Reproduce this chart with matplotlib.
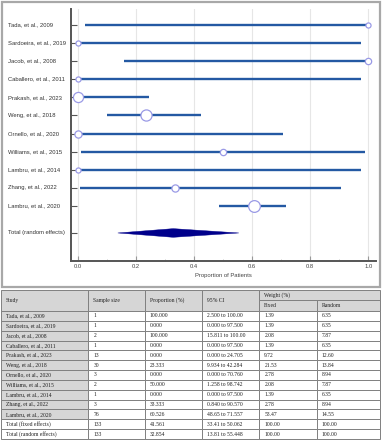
import matplotlib
matplotlib.use("Agg")
import matplotlib.pyplot as plt
from matplotlib.patches import Rectangle, Polygon
import matplotlib.transforms as mtransforms

# ---------------- data ----------------
studies = ["Tada, et al., 2009", "Sardoeira, et al., 2019", "Jacob, et al., 2008",
           "Caballero, et al., 2011", "Prakash, et al., 2023", "Weng, et al., 2018",
           "Ornello, et al., 2020", "Williams, et al., 2015", "Lambru, et al., 2014",
           "Zhang, et al., 2022", "Lambru, et al., 2020"]
sample_size = [1, 1, 2, 1, 13, 30, 3, 2, 1, 3, 76]
proportion = [100.000, 0.000, 100.000, 0.000, 0.000, 23.333, 0.000, 50.000, 0.000, 33.333, 60.526]
ci_low = [2.500, 0.000, 15.811, 0.000, 0.000, 9.934, 0.000, 1.258, 0.000, 0.840, 48.65]
ci_high = [100.00, 97.500, 100.00, 97.500, 24.705, 42.284, 70.760, 98.742, 97.500, 90.570, 71.557]
w_fixed = [1.39, 1.39, 2.08, 1.39, 9.72, 21.53, 2.78, 2.08, 1.39, 2.78, 53.47]
w_random = [6.35, 6.35, 7.87, 6.35, 12.60, 13.84, 8.94, 7.87, 6.35, 8.94, 14.55]

ci_low_txt = ["2.500", "0.000", "15.811", "0.000", "0.000", "9.934", "0.000", "1.258", "0.000", "0.840", "48.65"]
ci_high_txt = ["100.00", "97.500", "100.00", "97.500", "24.705", "42.284", "70.760", "98.742", "97.500", "90.570", "71.557"]

total_labels = ["Total (fixed effects)", "Total (random effects)"]
total_n = [133, 133]
total_prop = [41.561, 32.854]
total_ci_low = ["33.41", "13.81"]
total_ci_high = ["50.062", "55.448"]
total_wf = ["100.00", "100.00"]
total_wr = ["100.00", "100.00"]

random_total = 32.854
random_lo = 13.81
random_hi = 55.448

x_ticks = [0.0, 0.2, 0.4, 0.6, 0.8, 1.0]
x_label = "Proportion of Patients"
header = ["Study", "Sample size", "Proportion (%)", "95% CI", "Weight (%)", "Fixed", "Random"]

# ---------------- figure ----------------
W, H = 384, 440
fig = plt.figure(figsize=(W / 100, H / 100), dpi=100)
fig.patch.set_facecolor("white")

def fx(px):
    return px / W

def fy(py):
    return 1 - py / H

# frame around forest plot
frame = Rectangle((fx(1.5), fy(287)), fx(380) - fx(1.5), fy(1.5) - fy(287),
                  transform=fig.transFigure, fill=False, edgecolor="#a8a8a8", lw=1.6)
fig.patches.append(frame)

ax_l, ax_r, ax_t, ax_b = 70.7, 375.7, 9.3, 261
ax = fig.add_axes([fx(ax_l), fy(ax_b), fx(ax_r) - fx(ax_l), (ax_b - ax_t) / H])

n = len(studies)
ypos = list(range(n))
y_total = n + 0.5

line_col = "#2459a3"
for i in range(n):
    ax.plot([ci_low[i] / 100, ci_high[i] / 100], [ypos[i], ypos[i]], color=line_col,
            lw=1.7, solid_capstyle="butt", zorder=3)
    ax.plot(proportion[i] / 100, ypos[i], marker="o", markersize=w_random[i] * 0.58,
            markerfacecolor="white", markeredgecolor="#9a9ae6", markeredgewidth=0.9, zorder=4,
            clip_on=False)

dia = Polygon([[random_lo / 100, y_total], [random_total / 100, y_total - 0.24],
               [random_hi / 100, y_total], [random_total / 100, y_total + 0.24]],
              closed=True, facecolor="#00008b", edgecolor="#00008b", lw=0.3, zorder=3)
ax.add_patch(dia)

ax.set_xlim(-0.0241, 1.0255)
ax.set_ylim(13.05, -0.87)

ax.set_xticks(x_ticks)
ax.set_xticklabels([f"{t:.1f}" for t in x_ticks])
ax.set_xticks([0.1, 0.3, 0.5, 0.7, 0.9], minor=True)
ax.tick_params(axis="x", which="major", direction="in", length=3.5, width=0.8,
               color="#999999", labelsize=4.2, labelcolor="#444444", pad=2)
ax.tick_params(axis="x", which="minor", direction="in", length=1.8, width=0.6, color="#bbbbbb")
ax.xaxis.grid(True, which="major", color="#e6e6e6", lw=0.8)
ax.set_axisbelow(True)

ax.set_yticks(ypos + [y_total])
ax.set_yticklabels([])
ax.tick_params(axis="y", direction="in", length=4, width=0.8, color="#555555")

trans = mtransforms.blended_transform_factory(fig.transFigure, ax.transData)
for i in range(n):
    ax.text(fx(8), ypos[i], studies[i], transform=trans, ha="left", va="center",
            fontsize=4.2, color="#333333", family="Liberation Sans")
ax.text(fx(8), y_total, "Total (random effects)", transform=trans, ha="left", va="center",
        fontsize=4.2, color="#333333", family="Liberation Sans")

for s in ["top", "right"]:
    ax.spines[s].set_visible(False)
for s in ["left", "bottom"]:
    ax.spines[s].set_color("#555555")
    ax.spines[s].set_linewidth(1.4)

for lab in ax.get_xticklabels():
    lab.set_family("Liberation Sans")

fig.text(fx(223), fy(275.7), x_label, ha="center", va="center", fontsize=4.2,
         color="#444444", family="Liberation Sans")

# ---------------- table ----------------
tab = fig.add_axes([0, 0, 1, 1])
tab.set_xlim(0, W)
tab.set_ylim(H, 0)
tab.axis("off")

cols = [1, 88.3, 145, 201.7, 259.3, 316.7, 380]
h_top, h_mid, h_bot = 289.7, 300.3, 311
table_bottom = 439
rows_text = []
for i in range(n):
    rows_text.append([studies[i], str(sample_size[i]), f"{proportion[i]:.3f}",
                      f"{ci_low_txt[i]} to {ci_high_txt[i]}", f"{w_fixed[i]:.2f}", f"{w_random[i]:.2f}"])
for j in range(2):
    rows_text.append([total_labels[j], str(total_n[j]), f"{total_prop[j]:.3f}",
                      f"{total_ci_low[j]} to {total_ci_high[j]}", total_wf[j], total_wr[j]])

nrows = len(rows_text)
rh = (table_bottom - h_bot) / nrows
gray = "#d6d6d6"
edge = "#808080"
tfont = dict(family="Liberation Serif", fontsize=4.1, color="#222222", va="center", ha="left")
pad = 5

def cell(x0, x1, y0, y1, color):
    tab.add_patch(Rectangle((x0, y0), x1 - x0, y1 - y0, facecolor=color, edgecolor=edge, lw=0.7))

# header
for c in range(4):
    cell(cols[c], cols[c + 1], h_top, h_bot, gray)
    tab.text(cols[c] + pad, (h_top + h_bot) / 2, header[c], **tfont)
cell(cols[4], cols[6], h_top, h_mid, gray)
tab.text(cols[4] + pad, (h_top + h_mid) / 2, header[4], **tfont)
cell(cols[4], cols[5], h_mid, h_bot, gray)
tab.text(cols[4] + pad, (h_mid + h_bot) / 2, header[5], **tfont)
cell(cols[5], cols[6], h_mid, h_bot, gray)
tab.text(cols[5] + pad, (h_mid + h_bot) / 2, header[6], **tfont)

for r, row in enumerate(rows_text):
    y0 = h_bot + r * rh
    y1 = y0 + rh
    for c in range(6):
        color = gray if (c == 0 and r < n) else "white"
        cell(cols[c], cols[c + 1], y0, y1, color)
        tab.text(cols[c] + pad, (y0 + y1) / 2, row[c], **tfont)

fig.savefig("out.png", dpi=100)
